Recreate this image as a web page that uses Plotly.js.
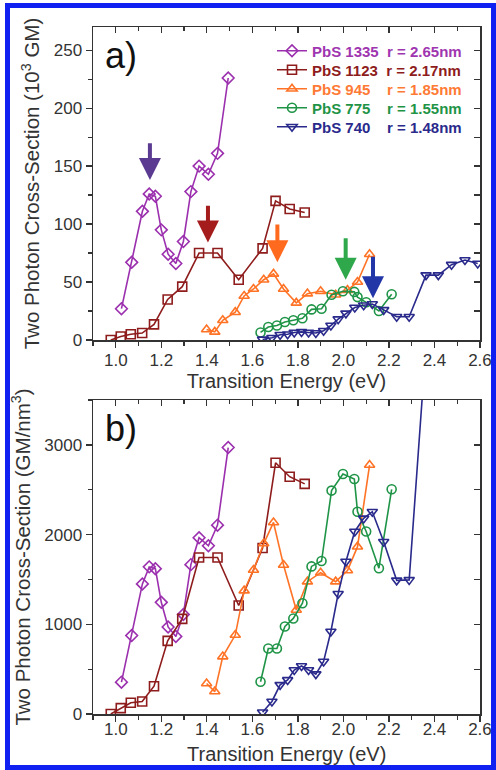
<!DOCTYPE html>
<html>
<head>
<meta charset="utf-8">
<script src="https://cdn.plot.ly/plotly-3.0.1.min.js"></script>
<style>
  html, body { margin: 0; padding: 0; background: #fff; }
  #chart { width: 496px; height: 770px; }
  #frame { position: absolute; left: 5px; top: 3px; width: 491px; height: 767px;
           border: 5px solid #1020f0; box-sizing: border-box; pointer-events: none; }
</style>
</head>
<body>
<div id="chart"></div>
<div id="frame"></div>
<script>
// ---- data ----
const seriesNames = ["PbS 1335", "PbS 1123", "PbS 945", "PbS 775", "PbS 740"];
const radii = ["2.65nm", "2.17nm", "1.85nm", "1.55nm", "1.48nm"];

const x1335 = [1.025, 1.07, 1.117, 1.147, 1.174, 1.20, 1.23, 1.264, 1.297, 1.33, 1.366, 1.407, 1.447, 1.494];
const a1335 = [27, 67, 111, 126, 124, 95, 74, 66, 85, 128, 150, 143, 161, 226];
const b1335 = [355, 875, 1450, 1640, 1620, 1245, 970, 865, 1110, 1665, 1965, 1875, 2105, 2970];

const x1123 = [0.978, 1.022, 1.066, 1.116, 1.168, 1.228, 1.292, 1.366, 1.447, 1.54, 1.645, 1.702, 1.764, 1.83];
const a1123 = [0, 3, 5, 6, 13.5, 35, 46, 75, 75, 52, 79, 120, 113, 110];
const b1123 = [0, 65, 125, 140, 310, 815, 1060, 1745, 1745, 1210, 1850, 2800, 2645, 2565];

const x945 = [1.399, 1.435, 1.47, 1.525, 1.564, 1.605, 1.65, 1.693, 1.737, 1.793, 1.842, 1.90, 1.966, 2.018, 2.062, 2.115];
const a945 = [9, 7, 17, 24, 38, 44, 52, 57, 44, 32, 40, 42, 39, 43, 50, 74];
const b945 = [340, 250, 640, 880, 1375, 1605, 1900, 2135, 1660, 1160, 1475, 1575, 1475, 1600, 1865, 2775];

const x775 = [1.636, 1.67, 1.708, 1.743, 1.78, 1.82, 1.86, 1.904, 1.948, 1.998, 2.048, 2.062, 2.10, 2.156, 2.212];
const a775 = [6.5, 11.2, 12.5, 15.5, 17, 18.8, 26.4, 27, 39, 42, 41.5, 37, 32.5, 25, 39.5];
const b775 = [360, 730, 730, 975, 1065, 1235, 1645, 1705, 2490, 2675, 2620, 2255, 2035, 1625, 2505];

const x740 = [1.645, 1.686, 1.722, 1.755, 1.784, 1.816, 1.847, 1.879, 1.913, 1.945, 1.977, 2.011, 2.05, 2.089, 2.127, 2.177, 2.234, 2.289, 2.363, 2.417, 2.475, 2.534, 2.59];
const a740 = [0.5, 2, 4.5, 5, 6.5, 7, 6.5, 6, 8, 12.5, 18, 23, 28, 30, 31, 26, 20, 20, 56, 56, 65, 69, 66];
const b740 = [20, 140, 325, 380, 490, 535, 490, 445, 585, 920, 1340, 1700, 2035, 2180, 2255, 1920, 1490, 1495, 4120, 4120, 4790, 5080, 4860];

// arrows (panel a): x position, tip value, tail value
const arrowX = [1.15, 1.405, 1.71, 2.01, 2.13];
const arrowTip = [138, 84, 67, 52, 36];
const arrowTail = [171, 117, 101, 89, 73];

const xTitle = "Transition Energy (eV)";
const yTitleA = "Two Photon Cross-Section (10<sup>3</sup> GM)";
const yTitleB = "Two Photon Cross-Section (GM/nm<sup>3</sup>)";

// ---- styling ----
const colors = ["#9b2fae", "#8e1c1c", "#ff7326", "#1f9447", "#2a2a8c"];
const legendColors = ["#a035b0", "#8e1c1c", "#ff7a35", "#1f9447", "#2a2a8c"];
const arrowColors = ["#5b3a92", "#a51c1c", "#ff6a1e", "#2ea84b", "#2236a8"];
const symbols = ["diamond-open", "square-open", "triangle-up-open", "circle-open", "triangle-down-open"];
const xs = [x1335, x1123, x945, x775, x740];
const as = [a1335, a1123, a945, a775, a740];
const bs = [b1335, b1123, b945, b775, b740];
const pad = ["", "", "\u00a0\u00a0", "\u00a0\u00a0", "\u00a0\u00a0"];

const FONT = "Arial, 'Liberation Sans', sans-serif";
const AX = "#333";
const M = { l: 93, r: 16, t: 27, b: 56 };
const H = 770;
const plotH = H - M.t - M.b;
function py(pix) { return (H - M.b - pix) / plotH; }   // pixel row -> paper y

const legendNames = ["legend", "legend2", "legend3", "legend4", "legend5"];
const legendRows = [51, 70, 89, 108, 127];

const traces = [];
for (let i = 0; i < 5; i++) {
  traces.push({
    x: xs[i], y: as[i], xaxis: "x", yaxis: "y", type: "scatter", mode: "lines+markers",
    legend: legendNames[i],
    name: '<span style="color:' + legendColors[i] + '">' + seriesNames[i] + pad[i] + '\u00a0\u00a0r = ' + radii[i] + '</span>',
    line: { color: colors[i], width: 1.6 },
    marker: { symbol: symbols[i], size: 9, color: colors[i], line: { width: 1.6, color: colors[i] } },
    hoverinfo: "skip"
  });
}
for (let i = 0; i < 5; i++) {
  traces.push({
    x: xs[i], y: bs[i], xaxis: "x2", yaxis: "y2", type: "scatter", mode: "lines+markers",
    showlegend: false,
    line: { color: colors[i], width: 1.6 },
    marker: { symbol: symbols[i], size: 9, color: colors[i], line: { width: 1.6, color: colors[i] } },
    hoverinfo: "skip"
  });
}
// dummy traces so the mirrored (inside-tick) axes are drawn
traces.push({ x: [], y: [], xaxis: "x3", yaxis: "y3", showlegend: false, hoverinfo: "skip" });
traces.push({ x: [], y: [], xaxis: "x4", yaxis: "y4", showlegend: false, hoverinfo: "skip" });

const XR = [0.9, 2.6001];
function xMain(anchor, title, standoff) {
  return {
    anchor: anchor, range: XR, tick0: 1.0, dtick: 0.2, tickformat: ".1f",
    ticks: "outside", ticklen: 6, tickwidth: 1.3, tickcolor: AX,
    minor: { dtick: 0.1, ticks: "outside", ticklen: 4, tickwidth: 1.2, tickcolor: AX },
    showline: true, linecolor: AX, linewidth: 1.5, mirror: true,
    showgrid: false, zeroline: false,
    ticklabelstandoff: standoff,
    tickfont: { family: FONT, size: 17, color: "#333" },
    title: { text: title, font: { family: FONT, size: 20, color: "#333" }, standoff: 4 }
  };
}
function xTop(over, anchor) {
  return {
    overlaying: over, anchor: anchor, side: "top", range: XR, tick0: 1.0, dtick: 0.2,
    ticks: "inside", ticklen: 6, tickwidth: 1.3, tickcolor: AX,
    minor: { dtick: 0.1, ticks: "inside", ticklen: 4, tickwidth: 1.2, tickcolor: AX },
    showticklabels: false, showline: false, showgrid: false, zeroline: false
  };
}
function yMain(anchor, domain, range, dtick, title) {
  return {
    anchor: anchor, domain: domain, range: range, dtick: dtick,
    ticks: "outside", ticklen: 6, tickwidth: 1.3, tickcolor: AX,
    minor: { dtick: dtick / 2, ticks: "outside", ticklen: 4, tickwidth: 1.2, tickcolor: AX },
    showline: true, linecolor: AX, linewidth: 1.5, mirror: true,
    showgrid: false, zeroline: false,
    tickfont: { family: FONT, size: 17, color: "#333" },
    title: { text: title, font: { family: FONT, size: 20.5, color: "#333" }, standoff: 8 }
  };
}
function yRight(over, anchor, domain, range, dtick) {
  return {
    overlaying: over, anchor: anchor, side: "right", domain: domain, range: range, dtick: dtick,
    ticks: "inside", ticklen: 6, tickwidth: 1.3, tickcolor: AX,
    minor: { dtick: dtick / 2, ticks: "inside", ticklen: 6, tickwidth: 1.2, tickcolor: AX },
    showticklabels: false, showline: false, showgrid: false, zeroline: false
  };
}

const domA = [py(340), 1];
const domB = [0, py(400)];
const RA = [0, 270], RB = [0, 3500];

const annotations = [
  { xref: "x domain", yref: "y domain", x: 0.025, y: 0.91, xanchor: "left", yanchor: "middle",
    text: "a)", showarrow: false, font: { family: FONT, size: 36, color: "#111" } },
  { xref: "x2 domain", yref: "y2 domain", x: 0.025, y: 0.91, xanchor: "left", yanchor: "middle",
    text: "b)", showarrow: false, font: { family: FONT, size: 36, color: "#111" } },
  // x-axis title of panel b (placed explicitly so it is not squeezed by the bottom margin)
  { xref: "paper", yref: "paper", x: 0.5, y: py(754), xanchor: "center", yanchor: "middle",
    text: xTitle, showarrow: false, font: { family: FONT, size: 20, color: "#333" } }
];
for (let i = 0; i < 5; i++) {
  annotations.push({
    xref: "x", yref: "y", axref: "x", ayref: "y",
    x: arrowX[i], y: arrowTip[i], ax: arrowX[i], ay: arrowTail[i],
    text: "", showarrow: true, arrowhead: 2, arrowsize: 1.1, arrowwidth: 4,
    arrowcolor: arrowColors[i]
  });
}

const layout = {
  width: 496, height: H,
  margin: M,
  paper_bgcolor: "#fff", plot_bgcolor: "#fff",
  font: { family: FONT, color: "#333" },
  xaxis: xMain("y", xTitle, -2),
  yaxis: yMain("x", domA, RA, 50, yTitleA),
  xaxis2: xMain("y2", "", -7),
  yaxis2: yMain("x2", domB, RB, 1000, yTitleB),
  xaxis3: xTop("x", "y"),
  yaxis3: yRight("y", "x", domA, RA, 50),
  xaxis4: xTop("x2", "y2"),
  yaxis4: yRight("y2", "x2", domB, RB, 1000),
  showlegend: true,
  annotations: annotations
};
for (let i = 0; i < 5; i++) {
  layout[legendNames[i]] = {
    x: (272 - M.l) / (496 - M.l - M.r), y: py(legendRows[i]), xanchor: "left", yanchor: "middle",
    bgcolor: "rgba(0,0,0,0)", borderwidth: 0,
    font: { family: FONT, size: 15, weight: "bold", color: "#333" }
  };
}

Plotly.newPlot("chart", traces, layout, { displayModeBar: false, staticPlot: true });
</script>
</body>
</html>
